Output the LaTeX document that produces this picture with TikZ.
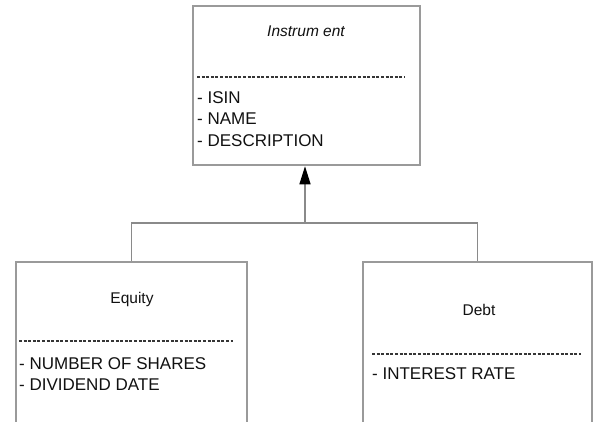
\documentclass[tikz,border=0pt]{standalone}
\usepackage{fontspec}
\setmainfont{Liberation Sans}
\usetikzlibrary{arrows.meta}
\definecolor{boxgray}{HTML}{9A9A9A}
\definecolor{linegray}{HTML}{8A8A8A}
\definecolor{txt}{HTML}{111111}
\begin{document}
\begin{tikzpicture}[x=1pt,y=1pt,
  cls/.style={draw=boxgray, line width=1.3pt, inner sep=0pt},
  title/.style={anchor=base, text=txt, inner sep=0pt, font=\fontsize{15.5}{18}\selectfont},
  attr/.style={anchor=base west, text=txt, inner sep=0pt, font=\fontsize{17}{20}\selectfont},
  sep/.style={draw=txt!85, line width=1.5pt, dash pattern=on 3pt off 1.6pt},
  conn/.style={draw=linegray, line width=1.2pt}]
\useasboundingbox (0,0) rectangle (593,421);
\fill[white] (0,0) rectangle (593,421);
% boxes
\node[cls, minimum width=227pt, minimum height=159pt] (inst) at (306.5,335.5) {};
\node[cls, minimum width=231pt, minimum height=163pt] (eq) at (131.5,77.5) {};
\node[cls, minimum width=229pt, minimum height=163pt] (debt) at (477.5,77.5) {};
% Instrument
\node[title, font=\fontsize{15.5}{18}\selectfont\itshape] (instT) at (306,384) {Instrum ent};
\coordinate (instS1) at (197,344);
\coordinate (instS2) at (405,344);
\draw[sep] (instS1) -- (instS2);
\node[attr] (a1) at (197,317) {- ISIN};
\node[attr] (a2) at (197,296.5) {- NAME};
\node[attr] (a3) at (197,275) {- DESCRIPTION};
% Equity
\node[title] (eqT) at (132,118) {Equity};
\coordinate (eqS1) at (19,80);
\coordinate (eqS2) at (233,80);
\draw[sep] (eqS1) -- (eqS2);
\node[attr] (e1) at (19,52) {- NUMBER OF SHARES};
\node[attr] (e2) at (19,31) {- DIVIDEND DATE};
% Debt
\node[title] (debtT) at (479,106) {Debt};
\coordinate (dS1) at (372,67);
\coordinate (dS2) at (581,67);
\draw[sep] (dS1) -- (dS2);
\node[attr] (d1) at (372,42) {- INTEREST RATE};
% connectors
\coordinate (j) at (305,198);
\draw[conn] (eq.north) |- (j) -| (debt.north);
\draw[conn, -{Triangle[length=18pt,width=11pt,fill=black,color=black]}, shorten >=0.6pt] (j) -- (j |- inst.south);
\end{tikzpicture}
\end{document}
